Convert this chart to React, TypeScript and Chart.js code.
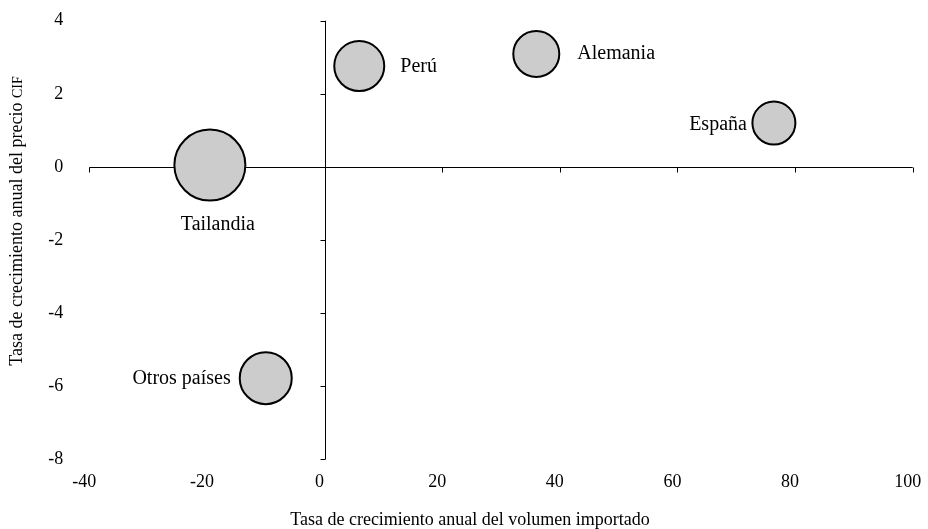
import React, { useEffect, useRef } from "react";
import { Chart, registerables } from "chart.js";

Chart.register(...registerables);

const countries = ["Perú", "Alemania", "España", "Otros países", "Tailandia"];
const volumeGrowth = [5.9, 36.0, 76.4, -10.0, -19.5];
const priceGrowth = [2.76, 3.09, 1.2, -5.78, 0.05];
const bubbleSizes = [25, 23, 21.5, 26, 35.5];
const xTicks = [-40, -20, 0, 20, 40, 60, 80, 100];
const yTicks = [4, 2, 0, -2, -4, -6, -8];
const xTitle = "Tasa de crecimiento anual del volumen importado";
const yTitleMain = "Tasa de crecimiento anual del precio ";
const yTitleSmall = "CIF";

const FONT = "'Liberation Serif', 'Times New Roman', serif";

// label placement: [dx, dy, align]
const labelPlacement: Record<string, [number, number, CanvasTextAlign]> = {
  "Perú": [41, 1, "left"],
  "Alemania": [41, 0, "left"],
  "España": [-27, 2, "right"],
  "Otros países": [-35, 1, "right"],
  "Tailandia": [8, 60, "center"],
};

const quadrantPlugin = {
  id: "quadrant",
  beforeDatasetsDraw(chart: any) {
    const { ctx, scales } = chart;
    const xs = scales.x;
    const ys = scales.y;
    const x0 = Math.round(xs.getPixelForValue(0)) + 0.5;
    const y0 = Math.round(ys.getPixelForValue(0)) + 0.5;
    ctx.save();
    ctx.strokeStyle = "#000";
    ctx.lineWidth = 1;
    ctx.beginPath();
    ctx.moveTo(xs.left, y0);
    ctx.lineTo(xs.right, y0);
    ctx.moveTo(x0, ys.top);
    ctx.lineTo(x0, ys.bottom);
    xTicks.forEach((v) => {
      const px = Math.round(xs.getPixelForValue(v)) + 0.5;
      ctx.moveTo(px, y0);
      ctx.lineTo(px, y0 + 5);
    });
    yTicks.forEach((v) => {
      const py = Math.round(ys.getPixelForValue(v)) + 0.5;
      ctx.moveTo(x0 - 5, py);
      ctx.lineTo(x0, py);
    });
    ctx.stroke();
    ctx.restore();
  },
};

const labelsPlugin = {
  id: "bubbleLabels",
  afterDatasetsDraw(chart: any) {
    const { ctx } = chart;
    const meta = chart.getDatasetMeta(0);
    ctx.save();
    ctx.fillStyle = "#000";
    ctx.font = `20px ${FONT}`;
    ctx.textBaseline = "middle";
    meta.data.forEach((el: any, i: number) => {
      const name = countries[i];
      const [dx, dy, align] = labelPlacement[name];
      ctx.textAlign = align;
      ctx.fillText(name, el.x + dx, el.y + dy);
    });
    // axis titles
    ctx.textAlign = "center";
    ctx.font = `18px ${FONT}`;
    ctx.fillText(xTitle, 470, 520);
    ctx.save();
    ctx.translate(17, 221);
    ctx.rotate(-Math.PI / 2);
    ctx.font = `18px ${FONT}`;
    const wMain = ctx.measureText(yTitleMain).width;
    ctx.font = `14px ${FONT}`;
    const wSmall = ctx.measureText(yTitleSmall).width;
    const total = wMain + wSmall;
    ctx.textAlign = "left";
    ctx.font = `18px ${FONT}`;
    ctx.fillText(yTitleMain, -total / 2, 0);
    ctx.font = `14px ${FONT}`;
    ctx.fillText(yTitleSmall, -total / 2 + wMain, 1);
    ctx.restore();
    ctx.restore();
  },
};

const zeroPadding = (s: any) => {
  s.paddingTop = 0;
  s.paddingBottom = 0;
  s.paddingLeft = 0;
  s.paddingRight = 0;
};

export default function App() {
  const ref = useRef<HTMLCanvasElement>(null);
  useEffect(() => {
    if (!ref.current) return;
    const chart = new Chart(ref.current, {
      type: "bubble",
      data: {
        datasets: [
          {
            label: "Países",
            data: countries.map((_, i) => ({
              x: volumeGrowth[i],
              y: priceGrowth[i],
              r: bubbleSizes[i],
            })),
            backgroundColor: "#cccccc",
            borderColor: "#000000",
            borderWidth: 2,
            clip: false,
          },
        ],
      },
      options: {
        responsive: false,
        animation: false,
        events: [],
        layout: {
          autoPadding: false,
          padding: { top: 20.7, right: 15.3, left: 0, bottom: 0 },
        },
        plugins: {
          legend: { display: false },
          tooltip: { enabled: false },
        },
        scales: {
          x: {
            type: "linear",
            min: -40,
            max: 100,
            afterBuildTicks: (s: any) => {
              s.ticks = xTicks.map((v) => ({ value: v }));
            },
            afterFit: (s: any) => {
              s.height = 69.7;
              zeroPadding(s);
            },
            grid: { display: false, drawTicks: false },
            border: { display: false },
            ticks: {
              color: "#000",
              font: { family: FONT, size: 18 },
              padding: 12,
              labelOffset: -5,
              maxRotation: 0,
              autoSkip: false,
            },
          },
          y: {
            type: "linear",
            min: -8,
            max: 4,
            afterBuildTicks: (s: any) => {
              s.ticks = yTicks.map((v) => ({ value: v }));
            },
            afterFit: (s: any) => {
              s.width = 89.3;
              zeroPadding(s);
            },
            grid: { display: false, drawTicks: false },
            border: { display: false },
            ticks: {
              color: "#000",
              font: { family: FONT, size: 18 },
              padding: 26,
              autoSkip: false,
            },
          },
        },
      },
      plugins: [quadrantPlugin, labelsPlugin],
    });
    return () => chart.destroy();
  }, []);
  return (
    <canvas
      ref={ref}
      width={928}
      height={529}
      style={{ position: "absolute", left: 0, top: 0, display: "block" }}
    />
  );
}
